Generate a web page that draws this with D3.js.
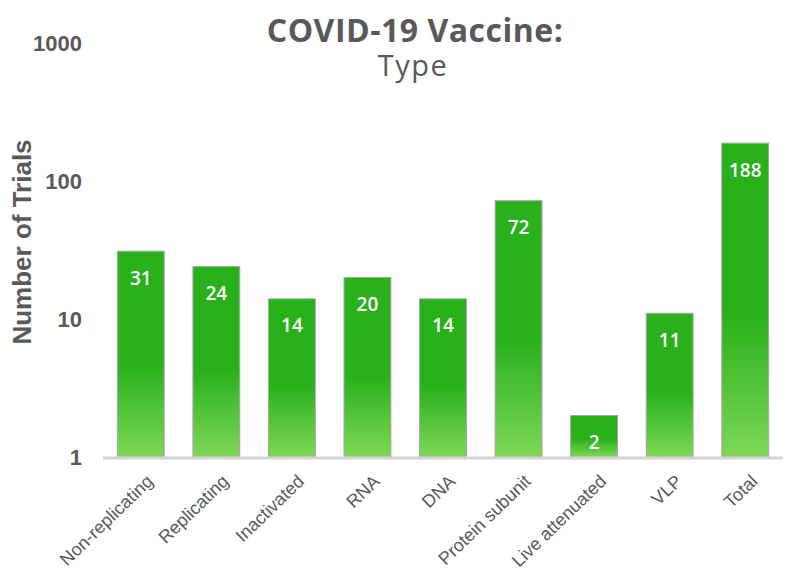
<!DOCTYPE html>
<html>
<head>
<meta charset="utf-8">
<script src="https://cdn.jsdelivr.net/npm/d3@7"></script>
<style>
  body { margin: 0; background: #fff; }
  svg { display: block; }
</style>
</head>
<body>
<svg id="chart" width="790" height="575"></svg>
<script>
// vaccine types and number of trials
var categories = ["Non-replicating", "Replicating", "Inactivated", "RNA", "DNA",
  "Protein subunit", "Live attenuated", "VLP", "Total"];
var trials = [31, 24, 14, 20, 14, 72, 2, 11, 188];
var tickValues = [1, 10, 100, 1000];

var svg = d3.select("#chart");

var x = d3.scaleBand()
    .domain(categories)
    .range([103, 783])
    .paddingInner(0.38)
    .paddingOuter(0.19);

var y = d3.scaleLog()
    .domain([1, 1000])
    .range([457, 43]);

// gradient: solid green on the top half, lighter toward the bottom
var grad = svg.append("defs").append("linearGradient")
    .attr("id", "barGrad")
    .attr("x1", 0).attr("y1", 0).attr("x2", 0).attr("y2", 1);
grad.append("stop").attr("offset", "0%").attr("stop-color", "#29b11c");
grad.append("stop").attr("offset", "55%").attr("stop-color", "#29b11c");
grad.append("stop").attr("offset", "100%").attr("stop-color", "#7fd856");

// title
svg.append("text")
    .attr("x", 415).attr("y", 42)
    .attr("text-anchor", "middle")
    .attr("font-family", "Open Sans")
    .attr("font-weight", "bold")
    .attr("font-size", 32)
    .attr("letter-spacing", 0.5)
    .attr("fill", "#595959")
    .text("COVID-19 Vaccine:");
svg.append("text")
    .attr("x", 413).attr("y", 76)
    .attr("text-anchor", "middle")
    .attr("font-family", "Open Sans")
    .attr("font-size", 29)
    .attr("letter-spacing", 1.5)
    .attr("fill", "#595959")
    .text("Type");

// y tick labels (no axis line)
svg.append("g").selectAll("text")
    .data(tickValues)
    .join("text")
    .attr("x", 82)
    .attr("y", d => y(d))
    .attr("dy", "0.35em")
    .attr("text-anchor", "end")
    .attr("font-family", "Liberation Sans")
    .attr("font-weight", "bold")
    .attr("font-size", 22)
    .attr("fill", "#595959")
    .text(d => d);

// y axis title
svg.append("text")
    .attr("transform", "translate(31,242) rotate(-90)")
    .attr("text-anchor", "middle")
    .attr("font-family", "Liberation Sans")
    .attr("font-weight", "bold")
    .attr("font-size", 26)
    .attr("fill", "#595959")
    .text("Number of Trials");

// bars
svg.append("g").selectAll("rect")
    .data(trials)
    .join("rect")
    .attr("x", (d, i) => x(categories[i]))
    .attr("y", d => y(d))
    .attr("width", x.bandwidth())
    .attr("height", d => y(1) - y(d))
    .attr("fill", "url(#barGrad)")
    .attr("stroke", "#a6a6a6")
    .attr("stroke-width", 1);

// value labels inside bars
svg.append("g").selectAll("text")
    .data(trials)
    .join("text")
    .attr("x", (d, i) => x(categories[i]) + x.bandwidth() / 2)
    .attr("y", d => y(d) + 27)
    .attr("dy", "0.35em")
    .attr("text-anchor", "middle")
    .attr("font-family", "Open Sans")
    .attr("font-weight", 600)
    .attr("font-size", 19)
    .attr("fill", "#fff")
    .text(d => d);

// baseline
svg.append("line")
    .attr("x1", 103).attr("x2", 783)
    .attr("y1", y(1) + 1).attr("y2", y(1) + 1)
    .attr("stroke", "#d4d4d4")
    .attr("stroke-width", 3);

// x labels, rotated
svg.append("g").selectAll("text")
    .data(categories)
    .join("text")
    .attr("transform", d => `translate(${x(d) + x.bandwidth() / 2 + 9},${y(1) + 21}) rotate(-44)`)
    .attr("text-anchor", "end")
    .attr("dy", "0.35em")
    .attr("font-family", "Liberation Sans")
    .attr("font-size", 18)
    .attr("fill", "#595959")
    .text(d => d);
</script>
</body>
</html>
